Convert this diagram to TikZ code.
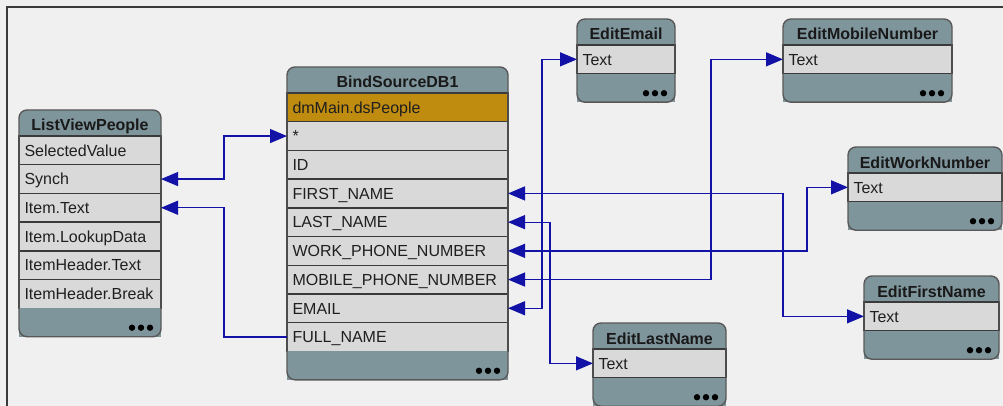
\documentclass[tikz,border=0pt]{standalone}
\usepackage{fontspec}
\setmainfont{Liberation Sans}
\usetikzlibrary{positioning,fit,backgrounds,arrows.meta}

\definecolor{canvasgray}{HTML}{F0F0F0}
\definecolor{headgray}{HTML}{7F959C}
\definecolor{rowgray}{HTML}{D9D9D9}
\definecolor{sourcegold}{HTML}{BF8C10}
\definecolor{edgegray}{HTML}{585858}
\definecolor{sepgray}{HTML}{3A3A3A}
\definecolor{linkblue}{HTML}{1212A6}

\tikzset{
  boxtitle/.style={anchor=north west, minimum height=26pt, inner sep=0pt, outer sep=0pt,
    text=black!90, font=\fontsize{16}{19}\bfseries\selectfont, text height=16.5pt, text depth=0.5pt},
  rowtw/.style={},
  boxrow/.style={draw=sepgray, line width=1.4pt, fill=rowgray, minimum height=28.7pt,
    inner xsep=5.5pt, inner ysep=0pt, outer sep=0pt, align=left, rowtw, text=black!88,
    font=\fontsize{16}{19}\selectfont, text height=13pt, text depth=1.5pt},
  boxfoot/.style={fill=headgray, minimum height=28.5pt, inner sep=0pt, outer sep=0pt,
    path picture={\foreach \d in {11,20,29}
      \fill[black] ([xshift=-\d pt,yshift=9pt]path picture bounding box.south east) circle (3.2pt);}},
  boxframe/.style={fill=headgray, rounded corners=8pt, inner sep=0pt, outer sep=0pt},
  boxedge/.style={draw=edgegray, line width=1.4pt, rounded corners=8pt},
  link/.style={draw=linkblue, line width=1.3pt}
}

\begin{document}
\begin{tikzpicture}[x=1pt, y=-1pt, >={Triangle[length=17pt,width=14pt]}]
\useasboundingbox (0,0) rectangle (1003,406);
\begin{scope}[on background layer]
\fill[canvasgray] (0,0) rectangle (1003,406);
\draw[sepgray, line width=1.5pt] (7,406) -- (7,7) -- (1003,7);
\end{scope}

% ListViewPeople
\begin{scope}[nodes={minimum width=142pt}, rowtw/.style={text width=131pt}]
\node[boxtitle] (lvp-title) at (19,110) {ListViewPeople};
\node[boxrow, below=0pt of lvp-title] (lvp-selected) {SelectedValue};
\node[boxrow, below=0pt of lvp-selected] (lvp-synch) {Synch};
\node[boxrow, below=0pt of lvp-synch] (lvp-itemtext) {Item.Text};
\node[boxrow, below=0pt of lvp-itemtext] (lvp-lookup) {Item.LookupData};
\node[boxrow, below=0pt of lvp-lookup] (lvp-headtext) {ItemHeader.Text};
\node[boxrow, below=0pt of lvp-headtext] (lvp-headbreak) {ItemHeader.Break};
\node[boxfoot, below=0pt of lvp-headbreak] (lvp-foot) {};
\begin{scope}[on background layer]
\node[boxframe, fit=(lvp-title)(lvp-foot)] (lvp) {};
\end{scope}
\draw[boxedge] (lvp.north west) rectangle (lvp.south east);
\end{scope}

% BindSourceDB1
\begin{scope}[nodes={minimum width=221pt}, rowtw/.style={text width=210pt}]
\node[boxtitle] (bs-title) at (287,67) {BindSourceDB1};
\node[boxrow, fill=sourcegold, below=0pt of bs-title] (bs-source) {dmMain.dsPeople};
\node[boxrow, below=0pt of bs-source] (bs-star) {*};
\node[boxrow, below=0pt of bs-star] (bs-id) {ID};
\node[boxrow, below=0pt of bs-id] (bs-first) {FIRST\_NAME};
\node[boxrow, below=0pt of bs-first] (bs-last) {LAST\_NAME};
\node[boxrow, below=0pt of bs-last] (bs-work) {WORK\_PHONE\_NUMBER};
\node[boxrow, below=0pt of bs-work] (bs-mobile) {MOBILE\_PHONE\_NUMBER};
\node[boxrow, below=0pt of bs-mobile] (bs-email) {EMAIL};
\node[boxrow, below=0pt of bs-email] (bs-full) {FULL\_NAME};
\node[boxfoot, below=0pt of bs-full] (bs-foot) {};
\begin{scope}[on background layer]
\node[boxframe, fit=(bs-title)(bs-foot)] (bs) {};
\end{scope}
\draw[boxedge] (bs.north west) rectangle (bs.south east);
\end{scope}

% EditEmail
\begin{scope}[nodes={minimum width=98pt}, rowtw/.style={text width=87pt}]
\node[boxtitle] (ee-title) at (577,19) {EditEmail};
\node[boxrow, below=0pt of ee-title] (ee-text) {Text};
\node[boxfoot, below=0pt of ee-text] (ee-foot) {};
\begin{scope}[on background layer]
\node[boxframe, fit=(ee-title)(ee-foot)] (ee) {};
\end{scope}
\draw[boxedge] (ee.north west) rectangle (ee.south east);
\end{scope}

% EditMobileNumber
\begin{scope}[nodes={minimum width=169pt}, rowtw/.style={text width=158pt}]
\node[boxtitle] (em-title) at (783,19) {EditMobileNumber};
\node[boxrow, below=0pt of em-title] (em-text) {Text};
\node[boxfoot, below=0pt of em-text] (em-foot) {};
\begin{scope}[on background layer]
\node[boxframe, fit=(em-title)(em-foot)] (em) {};
\end{scope}
\draw[boxedge] (em.north west) rectangle (em.south east);
\end{scope}

% EditWorkNumber
\begin{scope}[nodes={minimum width=154pt}, rowtw/.style={text width=143pt}]
\node[boxtitle] (ew-title) at (848,147) {EditWorkNumber};
\node[boxrow, below=0pt of ew-title] (ew-text) {Text};
\node[boxfoot, below=0pt of ew-text] (ew-foot) {};
\begin{scope}[on background layer]
\node[boxframe, fit=(ew-title)(ew-foot)] (ew) {};
\end{scope}
\draw[boxedge] (ew.north west) rectangle (ew.south east);
\end{scope}

% EditFirstName
\begin{scope}[nodes={minimum width=135pt}, rowtw/.style={text width=124pt}]
\node[boxtitle] (ef-title) at (864,276) {EditFirstName};
\node[boxrow, below=0pt of ef-title] (ef-text) {Text};
\node[boxfoot, below=0pt of ef-text] (ef-foot) {};
\begin{scope}[on background layer]
\node[boxframe, fit=(ef-title)(ef-foot)] (ef) {};
\end{scope}
\draw[boxedge] (ef.north west) rectangle (ef.south east);
\end{scope}

% EditLastName
\begin{scope}[nodes={minimum width=133pt}, rowtw/.style={text width=122pt}]
\node[boxtitle] (el-title) at (593,323) {EditLastName};
\node[boxrow, below=0pt of el-title] (el-text) {Text};
\node[boxfoot, below=0pt of el-text] (el-foot) {};
\begin{scope}[on background layer]
\node[boxframe, fit=(el-title)(el-foot)] (el) {};
\end{scope}
\draw[boxedge] (el.north west) rectangle (el.south east);
\end{scope}

% bindings
\draw[link, <->] (lvp-synch.east) -- ++(63,0) |- (bs-star.west);
\draw[link, ->] (bs-full.west) -- ++(-63,0) |- (lvp-itemtext.east);
\draw[link, <->] (bs-email.east) -- ++(34,0) |- (ee-text.west);
\draw[link, <->] (bs-mobile.east) -- ++(203,0) |- (em-text.west);
\draw[link, <->] (bs-work.east) -- ++(299,0) |- (ew-text.west);
\draw[link, <->] (bs-first.east) -- ++(275,0) |- (ef-text.west);
\draw[link, <->] (bs-last.east) -- ++(42,0) |- (el-text.west);
\end{tikzpicture}
\end{document}
